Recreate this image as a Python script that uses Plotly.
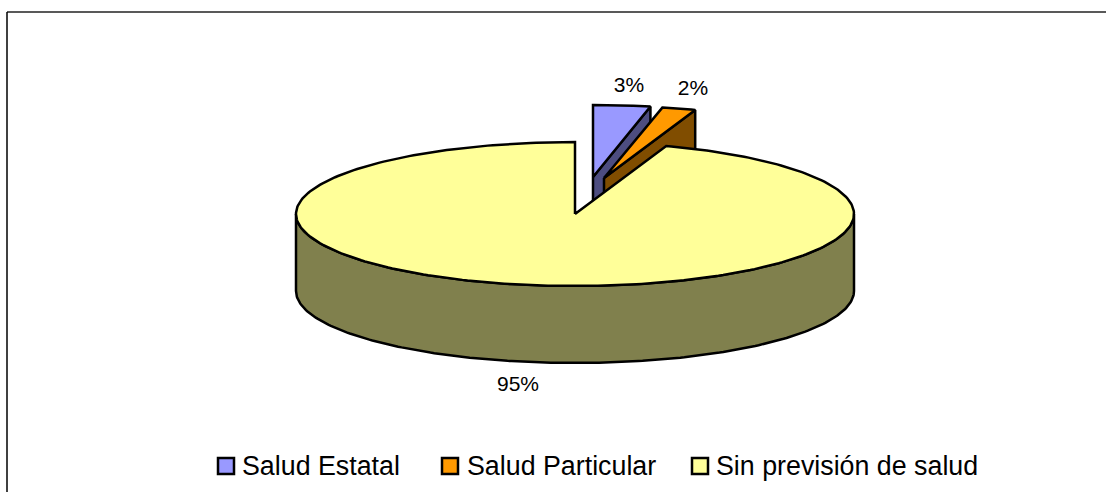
import numpy as np
import plotly.graph_objects as go

# --- data ---
categories = ["Salud Estatal", "Salud Particular", "Sin previsión de salud"]
values = [3.3, 2.0, 94.7]
pct_labels = ["3%", "2%", "95%"]

# --- styles ---
top_colors = ["#9999FF", "#FF9900", "#FFFF99"]
side_colors = ["#4D4D80", "#804D00", "#80804D"]
FONT = "Liberation Sans, Arial, sans-serif"

# --- 3D pie projection (pixel-like plot space) ---
CX, CY, RX, RY, DEPTH = 575, 214, 279, 72, 77
OFFSETS = [(18, -37), (29, -36), (0, 0)]
LABEL_POS = [(629, 87), (693, 90), (518, 386)]
LEGEND_MARK = [226, 450, 700]
LEGEND_TEXT = [242, 467, 716]
LEGEND_Y = 466

fractions = np.cumsum([0] + values) / sum(values) * 2 * np.pi


def ell(a, cx, cy):
    return cx + RX * np.sin(a), cy - RY * np.cos(a)


fig = go.Figure()


def poly(xs, ys, fill):
    fig.add_trace(go.Scatter(
        x=list(xs), y=list(ys), mode="lines", fill="toself", fillcolor=fill,
        line=dict(color="black", width=2.5), hoverinfo="skip", showlegend=False))


for i in range(3):
    a0, a1 = fractions[i], fractions[i + 1]
    dx, dy = OFFSETS[i]
    cx, cy = CX + dx, CY + dy
    if i < 2:
        # radial cut face on the right of the slice
        ex, ey = ell(a1, cx, cy)
        poly([cx, ex, ex, cx, cx], [cy, ey, ey + DEPTH, cy + DEPTH, cy], side_colors[i])
    else:
        # front wall of the big slice
        a = np.linspace(np.pi / 2, 3 * np.pi / 2, 200)
        tx, ty = ell(a, cx, cy)
        poly(np.r_[tx, tx[::-1], tx[0]], np.r_[ty, ty[::-1] + DEPTH, ty[0]], side_colors[i])
    a = np.linspace(a0, a1, 300)
    tx, ty = ell(a, cx, cy)
    poly(np.r_[cx, tx, cx], np.r_[cy, ty, cy], top_colors[i])

# percentage labels
fig.add_trace(go.Scatter(
    x=[p[0] for p in LABEL_POS], y=[p[1] for p in LABEL_POS], mode="text",
    text=pct_labels, textposition="middle center",
    textfont=dict(family=FONT, size=21, color="black"),
    hoverinfo="skip", showlegend=False))

# legend
fig.add_trace(go.Scatter(
    x=LEGEND_MARK, y=[LEGEND_Y] * 3, mode="markers",
    marker=dict(symbol="square", size=16, color=top_colors, line=dict(color="black", width=2.5)),
    hoverinfo="skip", showlegend=False))
for name, x in zip(categories, LEGEND_TEXT):
    fig.add_annotation(x=x, y=LEGEND_Y, text=name, showarrow=False, xanchor="left",
                       yanchor="middle", xshift=-2,
                       font=dict(family=FONT, size=26.8, color="black"))

# chart frame
fig.add_shape(type="line", x0=7, x1=1106, y0=12, y1=12, line=dict(color="#222222", width=1.5))
fig.add_shape(type="line", x0=7, x1=7, y0=12, y1=492, line=dict(color="black", width=1.5))

fig.update_layout(
    width=1106, height=492, margin=dict(l=0, r=0, t=0, b=0),
    paper_bgcolor="white", plot_bgcolor="white", showlegend=False,
    xaxis=dict(range=[0, 1106], visible=False, fixedrange=True),
    yaxis=dict(range=[492, 0], visible=False, fixedrange=True),
)
fig.write_html("out.html", config={"displayModeBar": False},
               post_script="document.body.style.margin='0';document.body.style.overflow='hidden';")
